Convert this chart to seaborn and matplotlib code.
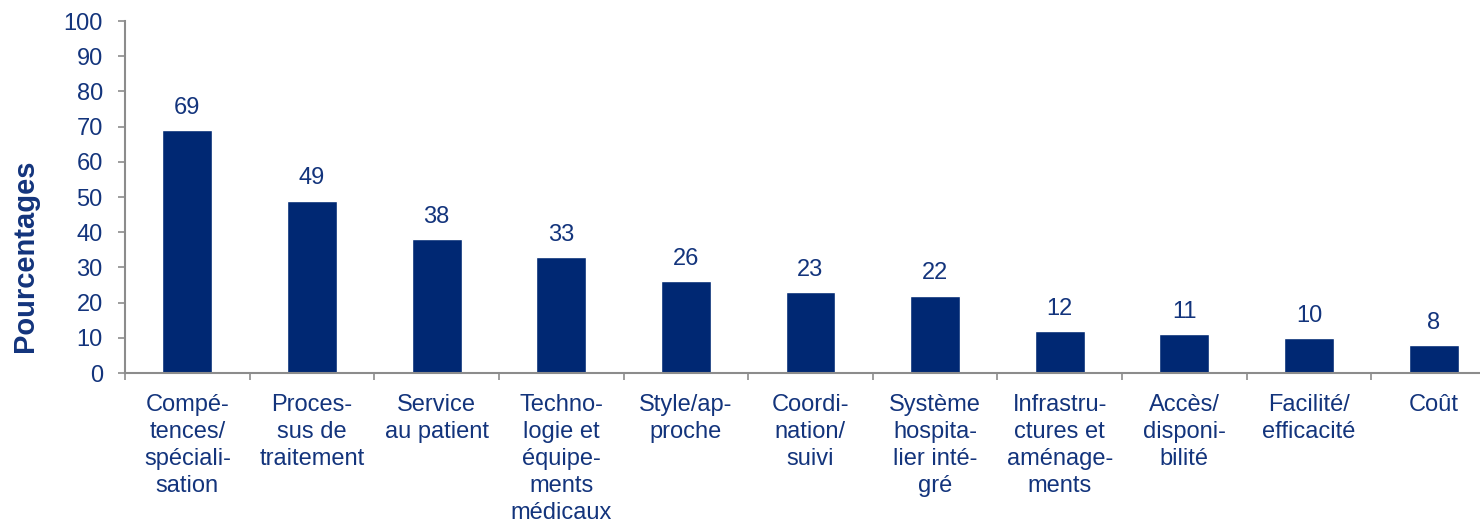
import matplotlib
matplotlib.use("Agg")
import matplotlib.pyplot as plt
import seaborn as sns
import pandas as pd

categories = [
    "Compé-\ntences/\nspéciali-\nsation",
    "Proces-\nsus de\ntraitement",
    "Service\nau patient",
    "Techno-\nlogie et\néquipe-\nments\nmédicaux",
    "Style/ap-\nproche",
    "Coordi-\nnation/\nsuivi",
    "Système\nhospita-\nlier inté-\ngré",
    "Infrastru-\nctures et\naménage-\nments",
    "Accès/\ndisponi-\nbilité",
    "Facilité/\nefficacité",
    "Coût",
]
values = [69, 49, 38, 33, 26, 23, 22, 12, 11, 10, 8]
yticks = [0, 10, 20, 30, 40, 50, 60, 70, 80, 90, 100]

BAR = "#002873"
TXT = "#13347C"
AX = "#8C8C8C"

sns.set_theme(style="white")
plt.rcParams["font.family"] = ["Liberation Sans", "DejaVu Sans"]

df = pd.DataFrame({"cat": categories, "val": values})

fig = plt.figure(figsize=(14.8, 5.21), dpi=100)
ax = fig.add_axes([125 / 1480, 1 - 373 / 521, 1371 / 1480, 352 / 521])

sns.barplot(data=df, x="cat", y="val", color=BAR, saturation=1, width=0.4, ax=ax)

ax.set_xlim(-0.5, 10.5)
ax.set_ylim(0, 100)
ax.set_yticks(yticks)
ax.set_yticklabels([str(t) for t in yticks])

for c in ax.containers:
    ax.bar_label(c, labels=[str(v) for v in values], padding=8, fontsize=17, color=TXT)

for s in ["top", "right"]:
    ax.spines[s].set_visible(False)
for s in ["left", "bottom"]:
    ax.spines[s].set_color(AX)
    ax.spines[s].set_linewidth(1.5)

ax.tick_params(axis="y", which="major", direction="out", length=5, width=1.2,
               color=AX, pad=11, labelsize=17, labelcolor=TXT, left=True)
ax.set_xticks(range(len(categories)))
ax.set_xticklabels(categories, fontsize=17, color=TXT, linespacing=1.29, va="top")
ax.tick_params(axis="x", which="major", length=0, pad=15)
ax.set_xticks([i - 0.5 for i in range(len(categories) + 1)], minor=True)
ax.tick_params(axis="x", which="minor", direction="out", length=5, width=1.2,
               color=AX, bottom=True)

ax.set_xlabel("")
ax.set_ylabel("Pourcentages", fontsize=21, fontweight="bold", color=TXT)
ax.yaxis.set_label_coords(-0.0627, 0.332)

fig.savefig("out.png", dpi=100)
